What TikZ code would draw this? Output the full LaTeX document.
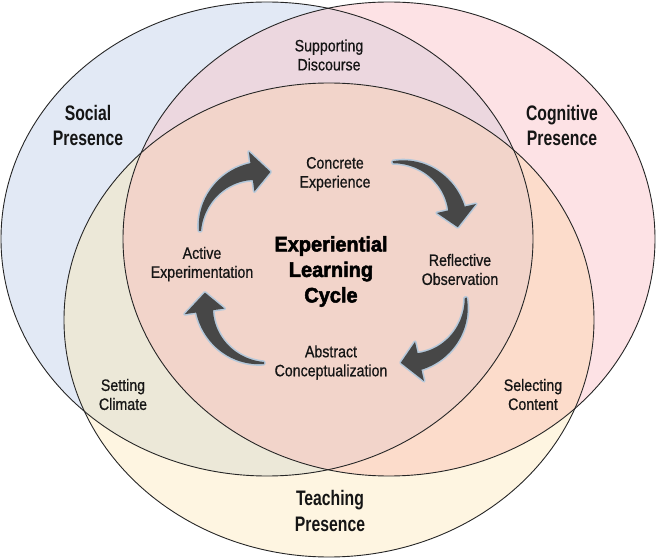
\documentclass[tikz,border=0pt]{standalone}
\usepackage{fontspec}
\setmainfont{Liberation Sans}[FakeStretch=0.86,FakeBold=0.7]
\newfontfamily\bigfont{Liberation Sans}[FakeStretch=0.75]
\newfontfamily\titlefont{Liberation Sans}[FakeStretch=0.95,BoldFeatures={FakeBold=2.4}]
\definecolor{blueC}{HTML}{E2E9F5}
\definecolor{pinkC}{HTML}{FDE2E5}
\definecolor{yelC}{HTML}{FEF5E1}
\definecolor{bpC}{HTML}{ECD7DF}
\definecolor{byC}{HTML}{ECE8D8}
\definecolor{pyC}{HTML}{FCDCCB}
\definecolor{allC}{HTML}{F2D4CA}
\definecolor{arrowC}{HTML}{474747}
\definecolor{glowC}{HTML}{B5C8DA}
\definecolor{txtC}{HTML}{151515}
\tikzset{
  blueE/.style={insert path={(267,239) ellipse [x radius=266, y radius=237]}},
  pinkE/.style={insert path={(389,239) ellipse [x radius=266, y radius=237]}},
  yelE/.style={insert path={(329,320) ellipse [x radius=265, y radius=237]}},
  outline/.style={draw=black!85, line width=0.9},
  lbl/.style={align=center, inner sep=0pt, text=txtC, font=\fontsize{16.5}{19}\selectfont},
  biglbl/.style={align=center, inner sep=0pt, text=txtC, font=\bigfont\bfseries\fontsize{21}{25.5}\selectfont},
  titlelbl/.style={align=center, inner sep=0pt, text=black, font=\titlefont\bfseries\fontsize{21}{25.5}\selectfont},
  cyc/.style={fill=arrowC, preaction={draw=glowC, line width=3.2, line join=round}}
}
\newcommand\cycarrow[3]{%
  \begin{scope}[shift={(#1,#2)}]
    \path[cyc] plot[domain=0:82,samples=30,variable=\t] ({#3+\t}:{61+7.5*\t/82})
      -- ({#3+82}:80) -- ({#3+100}:60) -- ({#3+82}:40)
      -- plot[domain=82:0,samples=30,variable=\t] ({#3+\t}:{59-7.5*\t/82}) -- cycle;
  \end{scope}}
\begin{document}
\begin{tikzpicture}[x=1pt,y=-1pt]
\useasboundingbox (0,0) rectangle (657,559);
% fills
\fill[blueC, blueE];
\fill[pinkC, pinkE];
\fill[yelC, yelE];
\begin{scope}
  \clip[blueE];
  \fill[bpC, pinkE];
  \fill[byC, yelE];
\end{scope}
\begin{scope}
  \clip[pinkE];
  \fill[pyC, yelE];
\end{scope}
\begin{scope}
  \clip[blueE];
  \clip[pinkE];
  \fill[allC, yelE];
\end{scope}
% outlines
\path[outline, blueE];
\path[outline, pinkE];
\path[outline, yelE];
% cycle arrows
\cycarrow{260}{231}{180}
\cycarrow{398}{222}{265}
\cycarrow{406}{303}{-5}
\cycarrow{264}{303}{90}
% labels
\node[lbl] (sd) at (329,55) {Supporting\\Discourse};
\node[biglbl] (sp) at (88,125.5) {Social\\Presence};
\node[biglbl] (cp) at (562,125.5) {Cognitive\\Presence};
\node[lbl] (ce) at (335,174) {Concrete\\Experience};
\node[titlelbl] (elc) at (331,271.5) {Experiential\\Learning\\Cycle};
\node[lbl] (ae) at (202,264) {Active\\Experimentation};
\node[lbl] (ro) at (460,269.5) {Reflective\\Observation};
\node[lbl] (ac) at (331,362.5) {Abstract\\Conceptualization};
\node[lbl] (sc) at (123,394.5) {Setting\\Climate};
\node[lbl] (sl) at (533,394.5) {Selecting\\Content};
\node[biglbl] (tp) at (330,511) {Teaching\\Presence};
\end{tikzpicture}
\end{document}
